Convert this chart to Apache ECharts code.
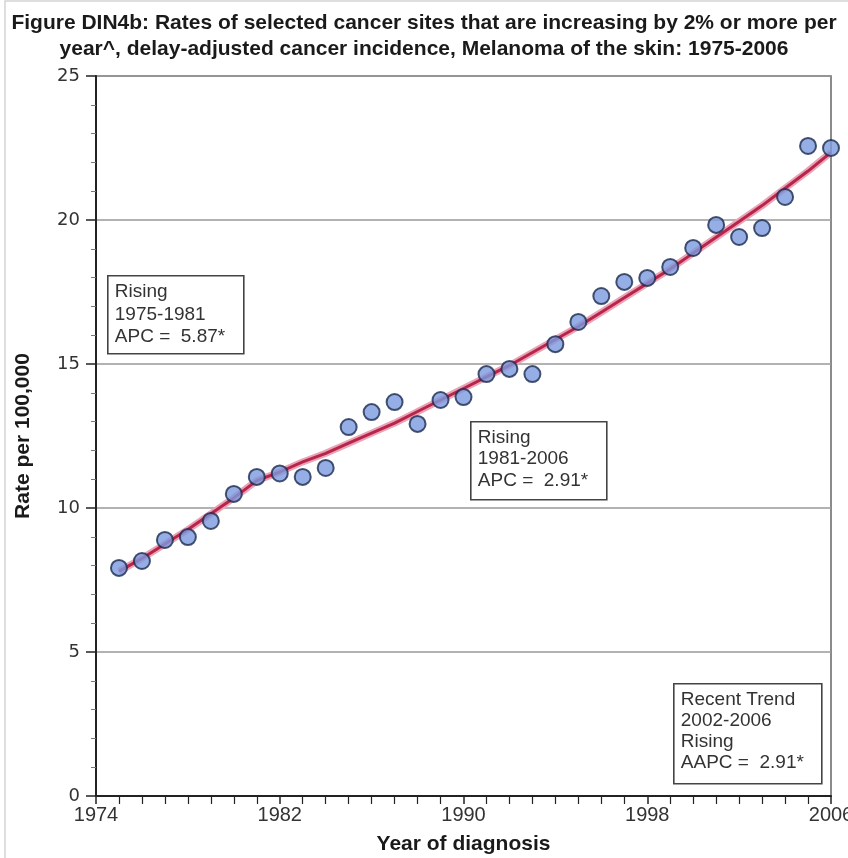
<!DOCTYPE html>
<html>
<head>
<meta charset="utf-8">
<script src="https://cdn.jsdelivr.net/npm/echarts@6/dist/echarts.min.js"></script>
<style>
html,body{margin:0;padding:0;background:#fff;}
#chart{width:848px;height:858px;}
</style>
</head>
<body>
<div id="chart"></div>
<script>
// ---- data ----
var years = [1975,1976,1977,1978,1979,1980,1981,1982,1983,1984,1985,1986,1987,1988,1989,1990,
             1991,1992,1993,1994,1995,1996,1997,1998,1999,2000,2001,2002,2003,2004,2005,2006];
var observedRates = [7.92,8.16,8.89,8.99,9.55,10.49,11.08,11.20,11.08,11.39,12.81,13.33,13.68,12.92,13.75,13.85,
                     14.65,14.83,14.65,15.69,16.46,17.36,17.85,17.99,18.37,19.03,19.83,19.41,19.72,20.80,22.57,22.50];
var modeledRates = [7.80,8.25,8.75,9.25,9.80,10.35,10.95,11.25,11.60,11.90,12.25,12.60,12.95,13.35,13.75,14.15,
                    14.55,14.95,15.40,15.85,16.30,16.80,17.30,17.80,18.30,18.85,19.40,19.95,20.50,21.10,21.70,22.35];
var xTicks = [1974,1982,1990,1998,2006];
var yTicks = [0,5,10,15,20,25];
var titleLines = ['Figure DIN4b: Rates of selected cancer sites that are increasing by 2% or more per',
                  'year^, delay-adjusted cancer incidence, Melanoma of the skin: 1975-2006'];
var box1Lines = ['Rising','1975-1981','APC =  5.87*'];
var box2Lines = ['Rising','1981-2006','APC =  2.91*'];
var box3Lines = ['Recent Trend','2002-2006','Rising','AAPC =  2.91*'];

function pairs(xs, ys){ return xs.map(function(x,i){ return [x, ys[i]]; }); }

var FONT = '"Liberation Sans", Arial, Helvetica, sans-serif';
var WIDE = '"DejaVu Sans", Verdana, sans-serif';
var chart = echarts.init(document.getElementById('chart'), null, {renderer:'canvas'});

function box(x, y, w, h, lines, lh){
  return {
    type:'group', left:x, top:y, z:100,
    children:[
      {type:'rect', shape:{x:0,y:0,width:w,height:h},
       style:{fill:'#fff', stroke:'#444', lineWidth:1.6}},
      {type:'text', x:7, y:5,
       style:{text:lines.join('\n'), font:'19px ' + FONT, fill:'#333', lineHeight:lh}}
    ]
  };
}

var option = {
  backgroundColor:'#fff',
  animation:false,
  title:{
    text: titleLines.join('\n'),
    left:'center', top:5,
    textStyle:{fontFamily:FONT, fontWeight:'bold', fontSize:21, color:'#1a1a1a', lineHeight:26}
  },
  grid:{left:96, right:17, top:76, bottom:62, show:true, borderColor:'#666', borderWidth:1.5,
        backgroundColor:'transparent', containLabel:false, outerBoundsMode:'none'},
  xAxis:{
    type:'value', min:1974, max:2006, interval:8,
    name:'Year of diagnosis', nameLocation:'middle', nameGap:38,
    nameTextStyle:{fontFamily:FONT, fontWeight:'bold', fontSize:21, color:'#1a1a1a'},
    axisLine:{show:true, onZero:false, lineStyle:{color:'#222', width:2}},
    axisTick:{show:true, length:8, lineStyle:{color:'#222', width:1.5}},
    minorTick:{show:true, splitNumber:8, length:8, lineStyle:{color:'#222', width:1.2}},
    axisLabel:{fontFamily:FONT, fontSize:20, color:'#333', margin:9,
      formatter:function(v){ return xTicks.indexOf(v) >= 0 ? String(v) : ''; }},
    splitLine:{show:false}
  },
  yAxis:{
    type:'value', min:0, max:25, interval:5,
    name:'Rate per 100,000', nameLocation:'middle', nameGap:62,
    nameTextStyle:{fontFamily:FONT, fontWeight:'bold', fontSize:21, color:'#1a1a1a'},
    axisLine:{show:true, lineStyle:{color:'#222', width:2}},
    axisTick:{show:true, length:10, lineStyle:{color:'#222', width:1.5}},
    minorTick:{show:true, splitNumber:5, length:5, lineStyle:{color:'#777', width:1}},
    axisLabel:{fontFamily:WIDE, fontSize:18, color:'#333', margin:16,
      formatter:function(v){ return yTicks.indexOf(v) >= 0 ? String(v) : ''; }},
    splitLine:{show:true, lineStyle:{color:'#999', width:1.5}}
  },
  series:[
    {type:'line', data:pairs(years, modeledRates), symbol:'none', z:3,
     lineStyle:{color:'#e9a3b6', width:7}},
    {type:'line', data:pairs(years, modeledRates), symbol:'none', z:4,
     lineStyle:{color:'#b8244a', width:3}},
    {type:'scatter', data:pairs(years, observedRates), symbol:'circle', symbolSize:16, z:5,
     itemStyle:{color:'#7a9ae0', borderColor:'#1c2a4e', borderWidth:2}}
  ],
  graphic:[
    {type:'rect', z:-1, silent:true, shape:{x:5,y:1,width:900,height:900},
     style:{fill:'none', stroke:'#d4d4d4', lineWidth:1.5}},
    box(107, 275, 136, 78, box1Lines, 22.5),
    box(470, 421, 136, 78, box2Lines, 21.5),
    box(673, 683, 148, 100, box3Lines, 21)
  ]
};
chart.setOption(option);
</script>
</body>
</html>
